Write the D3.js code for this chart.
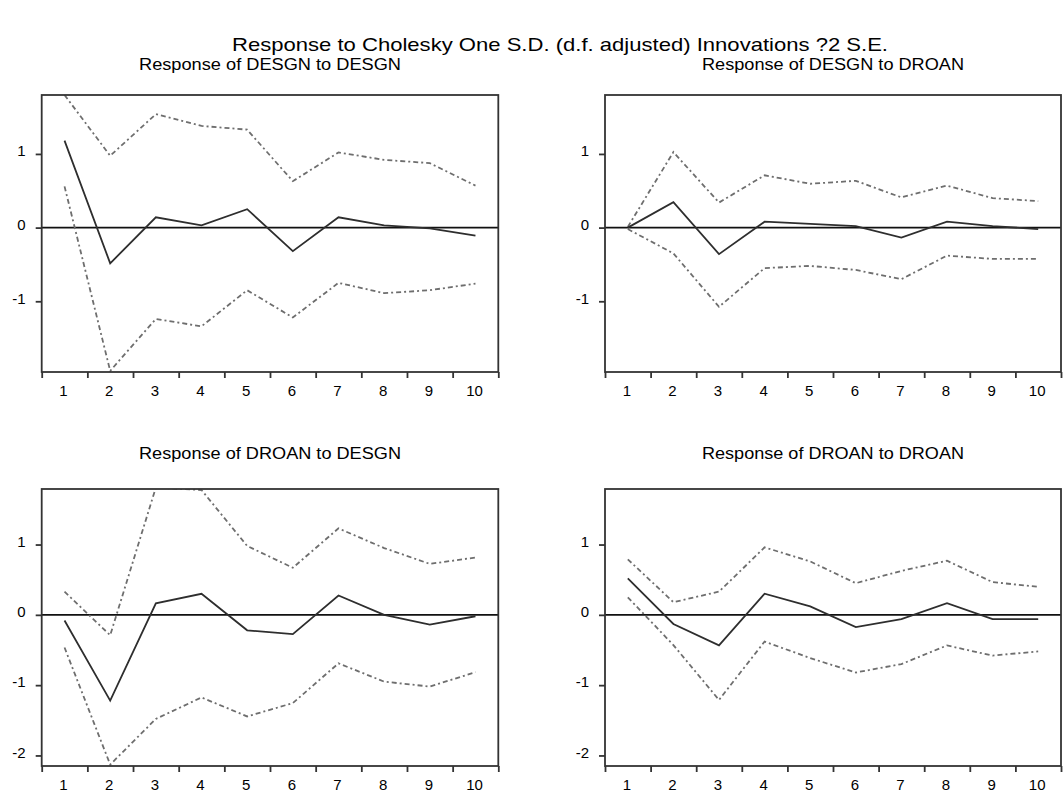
<!DOCTYPE html>
<html>
<head>
<meta charset="utf-8">
<script src="https://cdn.jsdelivr.net/npm/d3@7"></script>
<style>
  body { margin: 0; background: #fff; }
  text { font-family: Arial, "Liberation Sans", sans-serif; fill: #000; }
</style>
</head>
<body>
<div id="irf"></div>
<script>
var w = 1064;
var h = 792;

// periods on the x axis
var periods = [1, 2, 3, 4, 5, 6, 7, 8, 9, 10];

// Response of DESGN to DESGN
var desgnDesgn = [1.18, -0.485, 0.14, 0.03, 0.25, -0.32, 0.14, 0.03, -0.01, -0.11];
var desgnDesgnUp = [1.80, 0.975, 1.54, 1.38, 1.33, 0.63, 1.02, 0.92, 0.875, 0.57];
var desgnDesgnLo = [0.56, -1.945, -1.24, -1.34, -0.85, -1.22, -0.75, -0.89, -0.85, -0.76];

// Response of DESGN to DROAN
var desgnDroan = [0.0, 0.345, -0.36, 0.08, 0.05, 0.02, -0.135, 0.08, 0.02, -0.02];
var desgnDroanUp = [0.01, 1.025, 0.34, 0.71, 0.595, 0.635, 0.41, 0.57, 0.40, 0.36];
var desgnDroanLo = [-0.02, -0.35, -1.075, -0.55, -0.52, -0.575, -0.70, -0.38, -0.425, -0.425];

// Response of DROAN to DESGN
var droanDesgn = [-0.08, -1.22, 0.165, 0.30, -0.22, -0.275, 0.275, 0.0, -0.14, -0.02];
var droanDesgnUp = [0.33, -0.29, 1.81, 1.775, 0.98, 0.67, 1.23, 0.95, 0.725, 0.815];
var droanDesgnLo = [-0.465, -2.13, -1.48, -1.175, -1.445, -1.255, -0.69, -0.95, -1.02, -0.815];

// Response of DROAN to DROAN
var droanDroan = [0.52, -0.13, -0.435, 0.30, 0.12, -0.175, -0.06, 0.165, -0.06, -0.06];
var droanDroanUp = [0.79, 0.18, 0.33, 0.96, 0.76, 0.45, 0.625, 0.77, 0.465, 0.40];
var droanDroanLo = [0.25, -0.43, -1.21, -0.38, -0.615, -0.82, -0.70, -0.435, -0.58, -0.52];

var yTicks = [-2, -1, 0, 1];

var svg = d3.select("#irf")
    .append("svg")
    .attr("width", w)
    .attr("height", h);

svg.append("text")
    .attr("x", 560)
    .attr("y", 51)
    .attr("text-anchor", "middle")
    .attr("textLength", 656)
    .attr("lengthAdjust", "spacingAndGlyphs")
    .style("font-size", "19px")
    .text("Response to Cholesky One S.D. (d.f. adjusted) Innovations ?2 S.E.");

var panels = [
    { title: "Response of DESGN to DESGN", mid: desgnDesgn, up: desgnDesgnUp, lo: desgnDesgnLo,
      x0: 41.7, x1: 498.3, top: 95, bottom: 372, dom: [-1.96, 1.80], ty: 70 },
    { title: "Response of DESGN to DROAN", mid: desgnDroan, up: desgnDroanUp, lo: desgnDroanLo,
      x0: 605, x1: 1061, top: 95, bottom: 372, dom: [-1.96, 1.80], ty: 70 },
    { title: "Response of DROAN to DESGN", mid: droanDesgn, up: droanDesgnUp, lo: droanDesgnLo,
      x0: 41.7, x1: 498.3, top: 489, bottom: 766, dom: [-2.15, 1.79], ty: 459 },
    { title: "Response of DROAN to DROAN", mid: droanDroan, up: droanDroanUp, lo: droanDroanLo,
      x0: 605, x1: 1061, top: 489, bottom: 766, dom: [-2.15, 1.79], ty: 459 }
];

panels.forEach(function(p, k) {
    var g = svg.append("g");

    var xScale = d3.scaleLinear().domain([0.5, 10.5]).range([p.x0, p.x1]);
    var yScale = d3.scaleLinear().domain(p.dom).range([p.bottom, p.top]);

    g.append("text")
        .attr("x", (p.x0 + p.x1) / 2)
        .attr("y", p.ty)
        .attr("text-anchor", "middle")
        .attr("textLength", 262)
        .attr("lengthAdjust", "spacingAndGlyphs")
        .style("font-size", "16px")
        .text(p.title);

    var clipId = "clip" + k;
    g.append("clipPath").attr("id", clipId)
        .append("rect")
        .attr("x", p.x0).attr("y", p.top)
        .attr("width", p.x1 - p.x0).attr("height", p.bottom - p.top);

    var line = d3.line()
        .x(function(d, i) { return xScale(periods[i]); })
        .y(function(d) { return yScale(d); });

    var lines = g.append("g").attr("clip-path", "url(#" + clipId + ")");

    // zero line
    lines.append("line")
        .attr("x1", p.x0).attr("x2", p.x1)
        .attr("y1", yScale(0)).attr("y2", yScale(0))
        .attr("stroke", "#111")
        .attr("stroke-width", 1.8);

    [p.up, p.lo].forEach(function(band) {
        lines.append("path")
            .datum(band)
            .attr("d", line)
            .attr("fill", "none")
            .attr("stroke", "#6e6e6e")
            .attr("stroke-width", 1.8)
            .attr("stroke-dasharray", "5,3,2,3");
    });

    lines.append("path")
        .datum(p.mid)
        .attr("d", line)
        .attr("fill", "none")
        .attr("stroke", "#2e2e2e")
        .attr("stroke-width", 1.8);

    // frame
    g.append("rect")
        .attr("x", p.x0).attr("y", p.top)
        .attr("width", p.x1 - p.x0).attr("height", p.bottom - p.top)
        .attr("fill", "none")
        .attr("stroke", "#333")
        .attr("stroke-width", 1.8);

    // y axis
    var yAxis = d3.axisLeft(yScale)
        .tickValues(yTicks.filter(function(t) { return t >= p.dom[0] && t <= p.dom[1]; }))
        .tickFormat(function(d) { return String(d); })
        .tickSize(6)
        .tickPadding(10);
    var ya = g.append("g")
        .attr("transform", "translate(" + p.x0 + ",0)")
        .call(yAxis);
    ya.select(".domain").remove();
    ya.selectAll("line").attr("stroke", "#333").attr("stroke-width", 1.8);
    ya.selectAll("text")
        .attr("dy", "0.12em")
        .style("font-size", "15px")
        .attr("fill", "#000");

    // x axis: boundary ticks
    var edges = d3.range(0.5, 11, 1);
    var xTicks = d3.axisBottom(xScale)
        .tickValues(edges)
        .tickFormat("")
        .tickSize(6);
    var xa = g.append("g")
        .attr("transform", "translate(0," + p.bottom + ")")
        .call(xTicks);
    xa.select(".domain").remove();
    xa.selectAll("line").attr("stroke", "#333").attr("stroke-width", 1.8);

    // x axis: period labels
    var xLabels = d3.axisBottom(xScale)
        .tickValues(periods)
        .tickFormat(function(d) { return String(d); })
        .tickSize(0)
        .tickPadding(13);
    var xl = g.append("g")
        .attr("transform", "translate(-1.5," + p.bottom + ")")
        .call(xLabels);
    xl.select(".domain").remove();
    xl.selectAll("text").style("font-size", "15px").attr("fill", "#000");
});
</script>
</body>
</html>
